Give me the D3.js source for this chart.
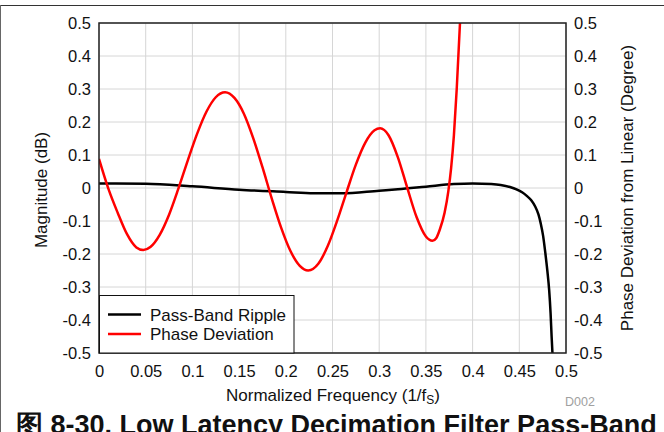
<!DOCTYPE html>
<html><head><meta charset="utf-8">
<script src="https://cdn.jsdelivr.net/npm/d3@7"></script>
<style>
html,body{margin:0;padding:0;background:#fff;}
svg{display:block;font-family:Arial,"Liberation Sans",Helvetica,sans-serif;}
</style></head>
<body><svg id="chart" width="664" height="432"></svg>
<script>
// ---- data ----
const xTicks = [0,0.05,0.1,0.15,0.2,0.25,0.3,0.35,0.4,0.45,0.5];
const yTicks = [-0.5,-0.4,-0.3,-0.2,-0.1,0,0.1,0.2,0.3,0.4,0.5];
const tickLabelsX = ["0","0.05","0.1","0.15","0.2","0.25","0.3","0.35","0.4","0.45","0.5"];
const tickLabelsY = ["-0.5","-0.4","-0.3","-0.2","-0.1","0","0.1","0.2","0.3","0.4","0.5"];

const rippleFreq = [0,0.05,0.1,0.15,0.2,0.23,0.26,0.3,0.32,0.35,0.38,0.4,0.42,0.43,0.44,0.447,0.453,0.458,0.463,0.467,0.4705,0.473,0.4755,0.478,0.48,0.482,0.4835,0.4846,0.4855];
const rippleMag  = [0.014,0.013,0.005,-0.005,-0.012,-0.016,-0.016,-0.008,-0.004,0.004,0.012,0.014,0.012,0.009,0.003,-0.004,-0.013,-0.024,-0.038,-0.056,-0.08,-0.108,-0.145,-0.2,-0.25,-0.31,-0.38,-0.45,-0.5];

const phaseFreq = [0,0.01,0.02,0.03,0.04,0.0475,0.055,0.065,0.075,0.085,0.095,0.105,0.115,0.125,0.135,0.145,0.155,0.165,0.175,0.185,0.195,0.205,0.215,0.224,0.235,0.245,0.255,0.265,0.275,0.285,0.295,0.301,0.31,0.32,0.33,0.34,0.35,0.357,0.361,0.365,0.37,0.374,0.377,0.38,0.383,0.3865,0.39];
const phaseDev  = [0.088,-0.002,-0.075,-0.14,-0.18,-0.188,-0.179,-0.142,-0.081,-0.002,0.083,0.164,0.231,0.275,0.29,0.273,0.226,0.152,0.063,-0.032,-0.12,-0.191,-0.236,-0.25,-0.229,-0.175,-0.099,-0.013,0.071,0.137,0.175,0.181,0.16,0.093,0.001,-0.088,-0.147,-0.16,-0.152,-0.125,-0.075,-0.01,0.06,0.16,0.3,0.5,0.72];

const seriesNames = ["Pass-Band Ripple","Phase Deviation"];
const seriesColors = ["#000000","#ff0000"];

// ---- layout ----
const svg = d3.select("#chart");
const L = 99, R = 566, T = 23, B = 353;
const x = d3.scaleLinear().domain([0,0.5]).range([L,R]);
const yL = d3.scaleLinear().domain([-0.5,0.5]).range([B,T]);
const yR = d3.scaleLinear().domain([-0.5,0.5]).range([B,T]);

// outer frame
svg.append("line").attr("x1",0).attr("x2",664).attr("y1",5.5).attr("y2",5.5).attr("stroke","#333").attr("stroke-width",1);
svg.append("line").attr("x1",0.5).attr("x2",0.5).attr("y1",5).attr("y2",432).attr("stroke","#666").attr("stroke-width",1);

// grid
const g = svg.append("g");
g.selectAll(".vg").data(xTicks).enter().append("line")
  .attr("x1",d=>x(d)).attr("x2",d=>x(d)).attr("y1",T).attr("y2",B)
  .attr("stroke","#d6d6d6").attr("stroke-width",1);
g.selectAll(".hg").data(yTicks).enter().append("line")
  .attr("x1",L).attr("x2",R).attr("y1",d=>yL(d)).attr("y2",d=>yL(d))
  .attr("stroke","#d6d6d6").attr("stroke-width",1);

// axes (labels only)
const axL = d3.axisLeft(yL).tickValues(yTicks).tickFormat((d,i)=>tickLabelsY[i]).tickSize(0).tickPadding(8);
const axR = d3.axisRight(yR).tickValues(yTicks).tickFormat((d,i)=>tickLabelsY[i]).tickSize(0).tickPadding(8);
const axB = d3.axisBottom(x).tickValues(xTicks).tickFormat((d,i)=>tickLabelsX[i]).tickSize(0).tickPadding(12);
function styleAxis(sel){
  sel.select(".domain").remove();
  sel.selectAll("text").attr("font-size","16.5px").attr("fill","#111").attr("font-family","Arial,'Liberation Sans',sans-serif");
}
svg.append("g").attr("transform",`translate(${L},0)`).call(axL).call(styleAxis);
svg.append("g").attr("transform",`translate(${R},0)`).call(axR).call(styleAxis);
svg.append("g").attr("transform",`translate(0,${B})`).call(axB).call(styleAxis);

// clip
svg.append("clipPath").attr("id","clip").append("rect").attr("x",L).attr("y",T).attr("width",R-L).attr("height",B-T);

const lineL = d3.line().x(d=>x(d[0])).y(d=>yL(d[1])).curve(d3.curveMonotoneX);
const lineR = d3.line().x(d=>x(d[0])).y(d=>yR(d[1])).curve(d3.curveMonotoneX);

const plot = svg.append("g").attr("clip-path","url(#clip)");
plot.append("path").datum(rippleFreq.map((f,i)=>[f,rippleMag[i]]))
  .attr("d",lineL).attr("fill","none").attr("stroke",seriesColors[0]).attr("stroke-width",2.5);
plot.append("path").datum(phaseFreq.map((f,i)=>[f,phaseDev[i]]))
  .attr("d",lineR).attr("fill","none").attr("stroke",seriesColors[1]).attr("stroke-width",2.5);

// plot border
svg.append("rect").attr("x",L).attr("y",T).attr("width",R-L).attr("height",B-T)
  .attr("fill","none").attr("stroke","#222").attr("stroke-width",1.5);

// legend
const lg = svg.append("g");
lg.append("rect").attr("x",99.5).attr("y",295.5).attr("width",194.5).attr("height",57.5)
  .attr("fill","#fff").attr("stroke","#111").attr("stroke-width",1);
seriesNames.forEach((n,i)=>{
  const yy = 314.5 + i*19.5;
  lg.append("line").attr("x1",108).attr("x2",141).attr("y1",yy).attr("y2",yy)
    .attr("stroke",seriesColors[i]).attr("stroke-width",2.5);
  lg.append("text").attr("x",150).attr("y",yy+6).attr("font-size","17px").attr("fill","#111").text(n);
});

// axis titles
svg.append("text").attr("transform","translate(47,190) rotate(-90)").attr("text-anchor","middle")
  .attr("font-size","17px").attr("fill","#111").text("Magnitude (dB)");
svg.append("text").attr("transform","translate(633,188) rotate(-90)").attr("text-anchor","middle")
  .attr("font-size","17px").attr("fill","#111").text("Phase Deviation from Linear (Degree)");
const xt = svg.append("text").attr("x",333).attr("y",401).attr("text-anchor","middle")
  .attr("font-size","17px").attr("fill","#111");
xt.append("tspan").text("Normalized Frequency (1/f");
xt.append("tspan").attr("font-size","12px").attr("dy",3).text("S");
xt.append("tspan").attr("dy",-3).text(")");

svg.append("text").attr("x",580).attr("y",406).attr("text-anchor","middle")
  .attr("font-size","12.5px").attr("fill","#a0a0a0").text("D002");

// figure caption (cut off at bottom, as in the reference)
svg.append("text").attr("x",16).attr("y",434).attr("font-size","27px").attr("font-weight","bold")
  .attr("fill","#111").text("图 8-30. Low Latency Decimation Filter Pass-Band");
</script></body></html>
